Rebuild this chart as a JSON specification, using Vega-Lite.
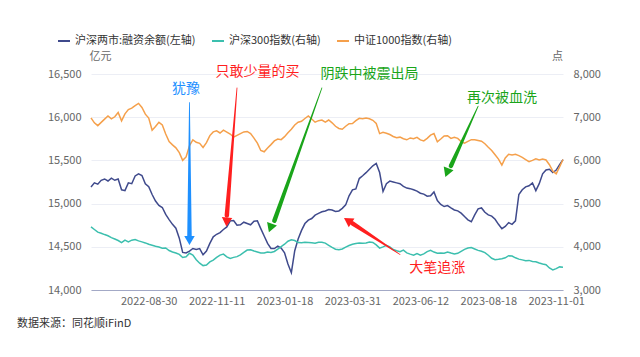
{
  "$schema": "https://vega.github.io/schema/vega-lite/v6.json",
  "width": 472,
  "height": 216,
  "autosize": {"type": "none"},
  "padding": {"left": 91, "top": 74, "right": 77, "bottom": 67},
  "background": "#ffffff",
  "config": {
    "font": "Noto Sans CJK SC",
    "view": {"stroke": null},
    "axis": {"labelFont": "Noto Sans CJK SC", "labelFontSize": 11, "labelColor": "#666666", "domain": false, "ticks": false, "gridColor": "#eceef5", "gridWidth": 1},
    "legend": {"orient": "none", "legendX": -34, "legendY": -40, "direction": "horizontal", "symbolType": "stroke", "symbolStrokeWidth": 2, "symbolSize": 144, "labelFontSize": 11, "labelColor": "#333333", "labelFont": "Noto Sans CJK SC", "columnPadding": 12, "labelOffset": 4, "title": null}
  },
  "title": {"text": "数据来源：同花顺iFinD", "orient": "bottom", "anchor": "start", "frame": "group", "dx": -74, "offset": 12, "fontSize": 11, "fontWeight": "normal", "color": "#333333", "font": "Noto Sans CJK SC"},
  "datasets": {
    "series": [
      {"date": "2022-07-01", "margin": 15192, "hs300": 4462, "zz1000": 6985},
      {"date": "2022-07-05", "margin": 15240, "hs300": 4400, "zz1000": 6870},
      {"date": "2022-07-08", "margin": 15225, "hs300": 4340, "zz1000": 6805},
      {"date": "2022-07-12", "margin": 15270, "hs300": 4315, "zz1000": 6880},
      {"date": "2022-07-15", "margin": 15285, "hs300": 4283, "zz1000": 6955},
      {"date": "2022-07-19", "margin": 15262, "hs300": 4255, "zz1000": 7030},
      {"date": "2022-07-22", "margin": 15295, "hs300": 4212, "zz1000": 6960},
      {"date": "2022-07-26", "margin": 15270, "hs300": 4180, "zz1000": 7010},
      {"date": "2022-07-29", "margin": 15285, "hs300": 4145, "zz1000": 7110},
      {"date": "2022-08-02", "margin": 15160, "hs300": 4095, "zz1000": 6915},
      {"date": "2022-08-05", "margin": 15150, "hs300": 4154, "zz1000": 7077},
      {"date": "2022-08-09", "margin": 15240, "hs300": 4115, "zz1000": 7175},
      {"date": "2022-08-12", "margin": 15230, "hs300": 4154, "zz1000": 7210},
      {"date": "2022-08-16", "margin": 15320, "hs300": 4168, "zz1000": 7270},
      {"date": "2022-08-19", "margin": 15345, "hs300": 4137, "zz1000": 7320},
      {"date": "2022-08-23", "margin": 15325, "hs300": 4114, "zz1000": 7225},
      {"date": "2022-08-26", "margin": 15230, "hs300": 4090, "zz1000": 7070},
      {"date": "2022-08-30", "margin": 15195, "hs300": 4058, "zz1000": 6980},
      {"date": "2022-09-02", "margin": 15105, "hs300": 4036, "zz1000": 6700},
      {"date": "2022-09-06", "margin": 15030, "hs300": 4013, "zz1000": 6785},
      {"date": "2022-09-09", "margin": 14978, "hs300": 3995, "zz1000": 6880},
      {"date": "2022-09-14", "margin": 14955, "hs300": 3966, "zz1000": 6820},
      {"date": "2022-09-16", "margin": 14875, "hs300": 3972, "zz1000": 6610},
      {"date": "2022-09-20", "margin": 14815, "hs300": 3914, "zz1000": 6435},
      {"date": "2022-09-23", "margin": 14760, "hs300": 3880, "zz1000": 6360},
      {"date": "2022-09-27", "margin": 14715, "hs300": 3858, "zz1000": 6290},
      {"date": "2022-09-30", "margin": 14600, "hs300": 3825, "zz1000": 6180},
      {"date": "2022-10-11", "margin": 14435, "hs300": 3752, "zz1000": 6000},
      {"date": "2022-10-13", "margin": 14428, "hs300": 3770, "zz1000": 6080},
      {"date": "2022-10-17", "margin": 14450, "hs300": 3850, "zz1000": 6340},
      {"date": "2022-10-19", "margin": 14480, "hs300": 3810, "zz1000": 6475},
      {"date": "2022-10-21", "margin": 14470, "hs300": 3700, "zz1000": 6420},
      {"date": "2022-10-25", "margin": 14480, "hs300": 3620, "zz1000": 6395},
      {"date": "2022-10-27", "margin": 14408, "hs300": 3565, "zz1000": 6300},
      {"date": "2022-10-31", "margin": 14450, "hs300": 3580, "zz1000": 6410},
      {"date": "2022-11-02", "margin": 14540, "hs300": 3652, "zz1000": 6575},
      {"date": "2022-11-08", "margin": 14615, "hs300": 3692, "zz1000": 6660},
      {"date": "2022-11-11", "margin": 14645, "hs300": 3754, "zz1000": 6685},
      {"date": "2022-11-15", "margin": 14665, "hs300": 3808, "zz1000": 6635},
      {"date": "2022-11-18", "margin": 14700, "hs300": 3831, "zz1000": 6700},
      {"date": "2022-11-22", "margin": 14730, "hs300": 3768, "zz1000": 6655},
      {"date": "2022-11-25", "margin": 14800, "hs300": 3732, "zz1000": 6610},
      {"date": "2022-11-29", "margin": 14805, "hs300": 3755, "zz1000": 6540},
      {"date": "2022-12-02", "margin": 14750, "hs300": 3772, "zz1000": 6580},
      {"date": "2022-12-06", "margin": 14755, "hs300": 3815, "zz1000": 6620},
      {"date": "2022-12-09", "margin": 14785, "hs300": 3870, "zz1000": 6660},
      {"date": "2022-12-13", "margin": 14770, "hs300": 3925, "zz1000": 6670},
      {"date": "2022-12-16", "margin": 14755, "hs300": 3933, "zz1000": 6620},
      {"date": "2022-12-20", "margin": 14795, "hs300": 3903, "zz1000": 6515},
      {"date": "2022-12-23", "margin": 14800, "hs300": 3880, "zz1000": 6400},
      {"date": "2022-12-27", "margin": 14710, "hs300": 3858, "zz1000": 6230},
      {"date": "2022-12-30", "margin": 14625, "hs300": 3855, "zz1000": 6200},
      {"date": "2023-01-04", "margin": 14540, "hs300": 3878, "zz1000": 6285},
      {"date": "2023-01-06", "margin": 14480, "hs300": 3870, "zz1000": 6365},
      {"date": "2023-01-09", "margin": 14480, "hs300": 3892, "zz1000": 6450},
      {"date": "2023-01-11", "margin": 14507, "hs300": 3945, "zz1000": 6495},
      {"date": "2023-01-16", "margin": 14485, "hs300": 4005, "zz1000": 6480},
      {"date": "2023-01-18", "margin": 14430, "hs300": 4060, "zz1000": 6550},
      {"date": "2023-01-30", "margin": 14300, "hs300": 4130, "zz1000": 6640},
      {"date": "2023-02-01", "margin": 14200, "hs300": 4160, "zz1000": 6720},
      {"date": "2023-02-03", "margin": 14455, "hs300": 4145, "zz1000": 6820},
      {"date": "2023-02-07", "margin": 14590, "hs300": 4098, "zz1000": 6885},
      {"date": "2023-02-10", "margin": 14690, "hs300": 4095, "zz1000": 6905},
      {"date": "2023-02-14", "margin": 14769, "hs300": 4105, "zz1000": 6970},
      {"date": "2023-02-17", "margin": 14808, "hs300": 4100, "zz1000": 7030},
      {"date": "2023-02-21", "margin": 14827, "hs300": 4095, "zz1000": 6960},
      {"date": "2023-02-24", "margin": 14866, "hs300": 4085, "zz1000": 6885},
      {"date": "2023-02-28", "margin": 14887, "hs300": 4105, "zz1000": 6920},
      {"date": "2023-03-03", "margin": 14905, "hs300": 4104, "zz1000": 6935},
      {"date": "2023-03-07", "margin": 14915, "hs300": 4085, "zz1000": 6885},
      {"date": "2023-03-10", "margin": 14931, "hs300": 4035, "zz1000": 6935},
      {"date": "2023-03-14", "margin": 14925, "hs300": 3985, "zz1000": 6870},
      {"date": "2023-03-16", "margin": 14910, "hs300": 3945, "zz1000": 6790},
      {"date": "2023-03-20", "margin": 14915, "hs300": 3930, "zz1000": 6740},
      {"date": "2023-03-22", "margin": 14945, "hs300": 3950, "zz1000": 6720},
      {"date": "2023-03-24", "margin": 14985, "hs300": 3992, "zz1000": 6790},
      {"date": "2023-03-28", "margin": 15090, "hs300": 4030, "zz1000": 6850},
      {"date": "2023-03-31", "margin": 15160, "hs300": 4060, "zz1000": 6855},
      {"date": "2023-04-04", "margin": 15170, "hs300": 4075, "zz1000": 6920},
      {"date": "2023-04-07", "margin": 15290, "hs300": 4090, "zz1000": 6975},
      {"date": "2023-04-11", "margin": 15322, "hs300": 4080, "zz1000": 6965},
      {"date": "2023-04-14", "margin": 15358, "hs300": 4090, "zz1000": 6980},
      {"date": "2023-04-18", "margin": 15398, "hs300": 4110, "zz1000": 6965},
      {"date": "2023-04-21", "margin": 15438, "hs300": 4100, "zz1000": 6928},
      {"date": "2023-04-25", "margin": 15465, "hs300": 4045, "zz1000": 6855},
      {"date": "2023-04-28", "margin": 15360, "hs300": 3970, "zz1000": 6620},
      {"date": "2023-05-05", "margin": 15140, "hs300": 3998, "zz1000": 6650},
      {"date": "2023-05-09", "margin": 15230, "hs300": 4035, "zz1000": 6630},
      {"date": "2023-05-12", "margin": 15260, "hs300": 4000, "zz1000": 6600},
      {"date": "2023-05-16", "margin": 15250, "hs300": 3938, "zz1000": 6554},
      {"date": "2023-05-19", "margin": 15240, "hs300": 3908, "zz1000": 6523},
      {"date": "2023-05-23", "margin": 15230, "hs300": 3885, "zz1000": 6538},
      {"date": "2023-05-26", "margin": 15200, "hs300": 3922, "zz1000": 6500},
      {"date": "2023-05-30", "margin": 15180, "hs300": 3860, "zz1000": 6477},
      {"date": "2023-06-02", "margin": 15173, "hs300": 3830, "zz1000": 6520},
      {"date": "2023-06-06", "margin": 15160, "hs300": 3806, "zz1000": 6500},
      {"date": "2023-06-08", "margin": 15145, "hs300": 3843, "zz1000": 6535},
      {"date": "2023-06-12", "margin": 15120, "hs300": 3808, "zz1000": 6475},
      {"date": "2023-06-15", "margin": 15110, "hs300": 3836, "zz1000": 6450},
      {"date": "2023-06-20", "margin": 15085, "hs300": 3888, "zz1000": 6510},
      {"date": "2023-06-26", "margin": 15090, "hs300": 3918, "zz1000": 6585},
      {"date": "2023-06-29", "margin": 15135, "hs300": 3878, "zz1000": 6620},
      {"date": "2023-07-03", "margin": 15035, "hs300": 3850, "zz1000": 6430},
      {"date": "2023-07-06", "margin": 14990, "hs300": 3858, "zz1000": 6495},
      {"date": "2023-07-10", "margin": 14966, "hs300": 3850, "zz1000": 6565},
      {"date": "2023-07-13", "margin": 14977, "hs300": 3880, "zz1000": 6570},
      {"date": "2023-07-17", "margin": 14950, "hs300": 3855, "zz1000": 6510},
      {"date": "2023-07-20", "margin": 14926, "hs300": 3833, "zz1000": 6535},
      {"date": "2023-07-24", "margin": 14916, "hs300": 3850, "zz1000": 6510},
      {"date": "2023-07-27", "margin": 14890, "hs300": 3895, "zz1000": 6435},
      {"date": "2023-07-31", "margin": 14850, "hs300": 3940, "zz1000": 6400},
      {"date": "2023-08-03", "margin": 14812, "hs300": 3970, "zz1000": 6440},
      {"date": "2023-08-07", "margin": 14790, "hs300": 3982, "zz1000": 6480},
      {"date": "2023-08-09", "margin": 14870, "hs300": 3950, "zz1000": 6480},
      {"date": "2023-08-11", "margin": 14940, "hs300": 3917, "zz1000": 6462},
      {"date": "2023-08-14", "margin": 14950, "hs300": 3897, "zz1000": 6445},
      {"date": "2023-08-16", "margin": 14900, "hs300": 3865, "zz1000": 6385},
      {"date": "2023-08-18", "margin": 14870, "hs300": 3805, "zz1000": 6305},
      {"date": "2023-08-22", "margin": 14855, "hs300": 3735, "zz1000": 6230},
      {"date": "2023-08-24", "margin": 14818, "hs300": 3700, "zz1000": 6130},
      {"date": "2023-08-28", "margin": 14760, "hs300": 3710, "zz1000": 6030},
      {"date": "2023-08-30", "margin": 14710, "hs300": 3725, "zz1000": 5890},
      {"date": "2023-09-01", "margin": 14735, "hs300": 3745, "zz1000": 6055},
      {"date": "2023-09-05", "margin": 14780, "hs300": 3795, "zz1000": 6140},
      {"date": "2023-09-07", "margin": 14760, "hs300": 3785, "zz1000": 6125},
      {"date": "2023-09-11", "margin": 14800, "hs300": 3745, "zz1000": 6140},
      {"date": "2023-09-13", "margin": 15105, "hs300": 3715, "zz1000": 6110},
      {"date": "2023-09-15", "margin": 15160, "hs300": 3697, "zz1000": 6070},
      {"date": "2023-09-19", "margin": 15194, "hs300": 3676, "zz1000": 6020},
      {"date": "2023-09-21", "margin": 15207, "hs300": 3685, "zz1000": 5970},
      {"date": "2023-09-25", "margin": 15240, "hs300": 3660, "zz1000": 6000},
      {"date": "2023-09-27", "margin": 15150, "hs300": 3654, "zz1000": 6035},
      {"date": "2023-10-09", "margin": 15231, "hs300": 3625, "zz1000": 6010},
      {"date": "2023-10-12", "margin": 15345, "hs300": 3603, "zz1000": 6030},
      {"date": "2023-10-16", "margin": 15390, "hs300": 3585, "zz1000": 6010},
      {"date": "2023-10-19", "margin": 15398, "hs300": 3510, "zz1000": 5900},
      {"date": "2023-10-24", "margin": 15360, "hs300": 3465, "zz1000": 5750},
      {"date": "2023-11-01", "margin": 15388, "hs300": 3495, "zz1000": 5690},
      {"date": "2023-11-06", "margin": 15450, "hs300": 3535, "zz1000": 5850},
      {"date": "2023-11-09", "margin": 15510, "hs300": 3525, "zz1000": 6020}
    ],
    "notes": [
      {"id": "犹豫", "date": "2022-10-13", "v": 16332},
      {"id": "只敢少量的买", "date": "2022-12-23", "v": 16523},
      {"id": "阴跌中被震出局", "date": "2023-04-18", "v": 16500},
      {"id": "再次被血洗", "date": "2023-08-30", "v": 16225},
      {"id": "大笔追涨", "date": "2023-07-03", "v": 14249}
    ],
    "arrows": [
      {"id": "犹豫", "part": "tail", "date": "2022-10-17", "v": 16170},
      {"id": "犹豫", "part": "neck", "date": "2022-10-17", "v": 14619},
      {"id": "犹豫", "part": "head", "date": "2022-10-17", "v": 14590},
      {"id": "只敢少量的买", "part": "tail", "date": "2022-12-02", "v": 16340},
      {"id": "只敢少量的买", "part": "neck", "date": "2022-11-22", "v": 14862},
      {"id": "只敢少量的买", "part": "head", "date": "2022-11-22", "v": 14804},
      {"id": "阴跌中被震出局", "part": "tail", "date": "2023-03-03", "v": 16340},
      {"id": "阴跌中被震出局", "part": "neck", "date": "2023-01-09", "v": 14802},
      {"id": "阴跌中被震出局", "part": "head", "date": "2023-01-06", "v": 14734},
      {"id": "再次被血洗", "part": "tail", "date": "2023-08-11", "v": 16127},
      {"id": "再次被血洗", "part": "neck", "date": "2023-07-17", "v": 15437},
      {"id": "再次被血洗", "part": "head", "date": "2023-07-13", "v": 15374},
      {"id": "大笔追涨", "part": "tail", "date": "2023-05-23", "v": 14411},
      {"id": "大笔追涨", "part": "neck", "date": "2023-03-31", "v": 14771},
      {"id": "大笔追涨", "part": "head", "date": "2023-03-28", "v": 14796}
    ]
  },
  "layer": [
    {
      "data": {"name": "series"},
      "transform": [{"fold": ["margin"], "as": ["series", "value"]}],
      "mark": {"type": "line", "strokeWidth": 1.5},
      "encoding": {
        "x": {"field": "date", "type": "ordinal", "scale": {"type": "point", "padding": 0},
              "axis": {"values": ["2022-08-30", "2022-11-11", "2023-01-18", "2023-03-31", "2023-06-12", "2023-08-18", "2023-11-01"], "title": null, "labelAngle": 0, "domain": true, "domainColor": "#a3a9c6", "domainWidth": 1, "ticks": false, "grid": false, "labelPadding": 5}},
        "y": {"field": "value", "type": "quantitative", "scale": {"domain": [14000, 16500], "nice": false, "zero": false},
              "axis": {"orient": "left", "values": [14000, 14500, 15000, 15500, 16000, 16500], "format": ",.0f", "grid": true, "labelPadding": 10, "title": "亿元", "titleAngle": 0, "titleX": 9, "titleY": -18, "titleAlign": "center", "titleBaseline": "middle", "titleColor": "#666666", "titleFontWeight": "normal", "titleFontSize": 11, "titleFont": "Noto Sans CJK SC"}},
        "color": {"field": "series", "type": "nominal",
                  "scale": {"domain": ["margin", "hs300", "zz1000"], "range": ["#3f4a8c", "#3cbfae", "#f5a04b"]},
                  "legend": {"labelExpr": "datum.label == 'margin' ? '沪深两市:融资余额(左轴)' : datum.label == 'hs300' ? '沪深300指数(右轴)' : '中证1000指数(右轴)'"}}
      }
    },
    {
      "data": {"name": "series"},
      "transform": [{"fold": ["hs300", "zz1000"], "as": ["series", "value"]}],
      "mark": {"type": "line", "strokeWidth": 1.5},
      "encoding": {
        "x": {"field": "date", "type": "ordinal"},
        "y": {"field": "value", "type": "quantitative", "scale": {"domain": [3000, 8000], "nice": false, "zero": false},
              "axis": {"orient": "right", "values": [3000, 4000, 5000, 6000, 7000, 8000], "format": ",.0f", "grid": false, "labelPadding": 10, "title": "点", "titleAngle": 0, "titleX": -6, "titleY": -18, "titleAlign": "center", "titleBaseline": "middle", "titleColor": "#666666", "titleFontWeight": "normal", "titleFontSize": 11, "titleFont": "Noto Sans CJK SC"}},
        "color": {"field": "series", "type": "nominal"}
      }
    },
    {
      "data": {"name": "arrows"},
      "transform": [{"filter": "datum.part != 'head'"}],
      "mark": {"type": "trail"},
      "encoding": {
        "x": {"field": "date", "type": "ordinal"},
        "y": {"field": "v", "type": "quantitative", "scale": {"domain": [14000, 16500], "nice": false, "zero": false}, "axis": null},
        "detail": {"field": "id"},
        "size": {"field": "part", "type": "ordinal", "scale": {"domain": ["tail", "neck"], "range": [0.8, 4.5]}, "legend": null},
        "fill": {"field": "id", "type": "nominal", "scale": {"domain": ["犹豫", "只敢少量的买", "阴跌中被震出局", "再次被血洗", "大笔追涨"], "range": ["#1e90ff", "#ff1f1f", "#1aa51a", "#1aa51a", "#ff1f1f"]}, "legend": null}
      }
    },
    {
      "data": {"name": "arrows"},
      "transform": [{"filter": "datum.part == 'head'"}],
      "mark": {"type": "point", "shape": "triangle", "filled": true, "size": 110, "opacity": 1, "strokeWidth": 0},
      "encoding": {
        "x": {"field": "date", "type": "ordinal"},
        "y": {"field": "v", "type": "quantitative", "scale": {"domain": [14000, 16500], "nice": false, "zero": false}, "axis": null},
        "angle": {"field": "id", "type": "nominal", "scale": {"type": "ordinal", "domain": ["犹豫", "只敢少量的买", "阴跌中被震出局", "再次被血洗", "大笔追涨"], "range": [180, 184.5, 200, 201, 303]}, "legend": null},
        "fill": {"field": "id", "type": "nominal", "legend": null}
      }
    },
    {
      "data": {"name": "notes"},
      "mark": {"type": "text", "fontSize": 14, "font": "Noto Sans CJK SC", "align": "center", "baseline": "middle"},
      "encoding": {
        "x": {"field": "date", "type": "ordinal"},
        "y": {"field": "v", "type": "quantitative", "scale": {"domain": [14000, 16500], "nice": false, "zero": false}, "axis": null},
        "text": {"field": "id"},
        "fill": {"field": "id", "type": "nominal", "legend": null}
      }
    }
  ],
  "resolve": {"scale": {"y": "independent"}}
}
